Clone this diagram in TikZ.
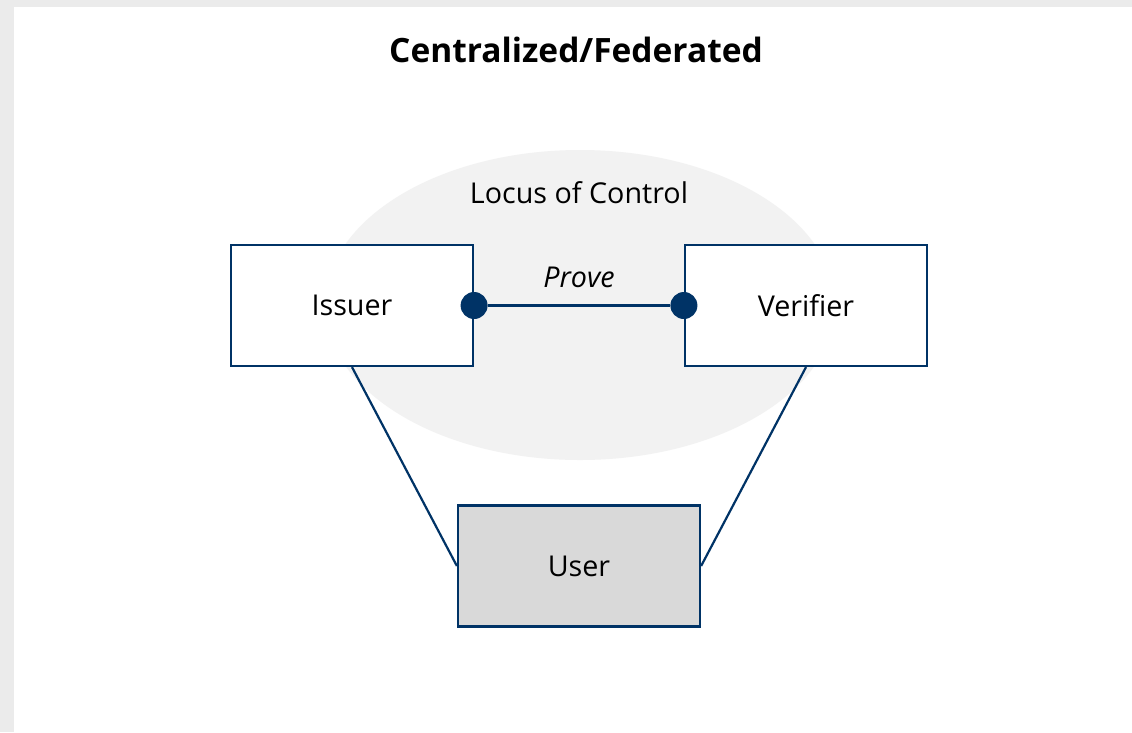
\documentclass[tikz,border=0pt]{standalone}
\usepackage{fontspec}
\setmainfont{Open Sans}
\usepackage{tikz}
\usetikzlibrary{positioning,calc,shapes.geometric}
\definecolor{linkblue}{HTML}{003366}
\definecolor{locusgray}{HTML}{F2F2F2}
\definecolor{usergray}{HTML}{D9D9D9}
\definecolor{framegray}{HTML}{EBEBEB}
\tikzset{
	trust model/.style={
		x=1pt,y=-1pt,
		font=\fontsize{28.7}{34}\selectfont
	},
	party/.style={
		rectangle,
		draw=linkblue,
		line width=2.2pt,
		fill=white,
		minimum width=242pt,
		minimum height=121pt,
		inner sep=0pt
	},
	holder/.style={
		party,
		fill=usergray
	},
	locus/.style={
		ellipse,
		fill=locusgray,
		minimum width=510pt,
		minimum height=310pt
	},
	link/.style={
		draw=linkblue,
		line width=2.2pt
	},
	port/.style={
		circle,
		fill=linkblue,
		minimum size=27pt,
		inner sep=0pt
	}
}
\begin{document}
\begin{tikzpicture}[trust model]
	% frame
	\fill[framegray] (0,0) rectangle (1132,732);
	\fill[white] (14,7) rectangle (1132,732);
	\useasboundingbox (0,0) rectangle (1132,732);

	\node[font=\fontsize{33.5}{40}\selectfont\bfseries] (title) at (576,50) {Centralized/Federated};

	\node[locus] (control) at (580,305) {};
	\node (controllabel) at (579,193) {Locus of Control};

	\node[party] (issuer) at (352,305.5) {Issuer};
	\node[party] (verifier) at (806,305.5) {Verifier};
	\node[holder] (user) at (579,566) {User};

	\draw[link] (issuer.south) -- (user.west);
	\draw[link] (verifier.south) -- (user.east);

	\node[port] (issuerport) at (issuer.east) {};
	\node[port] (verifierport) at (verifier.west) {};
	\draw[link] (issuerport) -- node[above=13pt,font=\fontsize{28.7}{34}\selectfont\itshape] (prove) {Prove} (verifierport);
\end{tikzpicture}
\end{document}
